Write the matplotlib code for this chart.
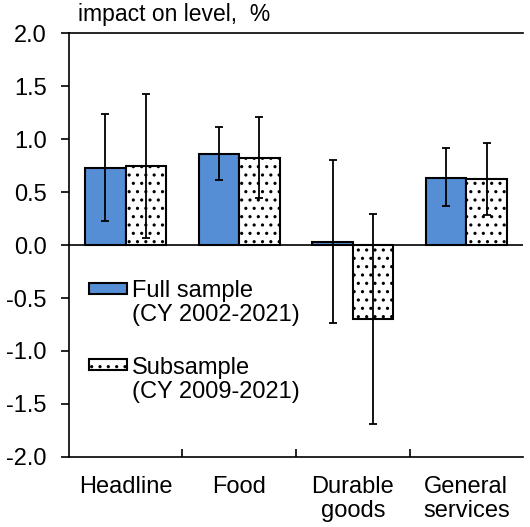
import numpy as np
import matplotlib
matplotlib.use("Agg")
import matplotlib.pyplot as plt
from matplotlib.patches import Rectangle

plt.rcParams['font.family'] = ['Liberation Sans', 'DejaVu Sans']
plt.rcParams['hatch.linewidth'] = 1.1

categories = ['Headline', 'Food', 'Durable\ngoods', 'General\nservices']
full_vals = [0.73, 0.86, 0.03, 0.63]
full_hi = [1.24, 1.11, 0.80, 0.92]
full_lo = [0.23, 0.61, -0.735, 0.37]
sub_vals = [0.75, 0.82, -0.70, 0.62]
sub_hi = [1.43, 1.21, 0.29, 0.96]
sub_lo = [0.07, 0.44, -1.69, 0.28]
yticks = [-2.0, -1.5, -1.0, -0.5, 0.0, 0.5, 1.0, 1.5, 2.0]

blue = '#558ED5'
fs = 17

fig = plt.figure(figsize=(5.30, 5.27), dpi=100)
ax = fig.add_axes([0.130, 0.133, 0.857, 0.804])

x = np.arange(len(categories))
w = 0.357
full_vals = np.array(full_vals)
sub_vals = np.array(sub_vals)
full_err = [full_vals - np.array(full_lo), np.array(full_hi) - full_vals]
sub_err = [sub_vals - np.array(sub_lo), np.array(sub_hi) - sub_vals]

ax.bar(x - w / 2, full_vals, w, color=blue, edgecolor='black', linewidth=1.5, zorder=2)
ax.bar(x + w / 2, sub_vals, w, color='white', edgecolor='black', linewidth=1.5,
       hatch='..', zorder=2)
ax.errorbar(x - w / 2, full_vals, yerr=full_err, fmt='none', ecolor='black',
            elinewidth=1.3, capsize=3, capthick=1.3, zorder=3)
ax.errorbar(x + w / 2, sub_vals, yerr=sub_err, fmt='none', ecolor='black',
            elinewidth=1.3, capsize=3, capthick=1.3, zorder=3)

ax.axhline(0, color='black', linewidth=1.2, zorder=4)

ax.set_xlim(-0.5, len(categories) - 0.5)
ax.set_ylim(-2.0, 2.0)
ax.set_yticks(yticks)
ax.set_yticklabels([f'{v:.1f}' for v in yticks], fontsize=fs)
ax.tick_params(axis='y', direction='out', length=6, width=1.2, pad=10)

ax.set_xticks(x)
ax.set_xticklabels(categories, fontsize=fs, linespacing=1.1)
ax.set_xticks(x[:-1] + 0.5, minor=True)
ax.tick_params(axis='x', which='major', length=0, pad=14)
ax.tick_params(axis='x', which='minor', direction='in', length=6, width=1.2)

ax.spines['right'].set_visible(False)
for s in ['left', 'bottom', 'top']:
    ax.spines[s].set_linewidth(1.2)

# legend drawn by hand
ax.add_patch(Rectangle((0.044, 0.384), 0.084, 0.027, transform=ax.transAxes,
                       facecolor=blue, edgecolor='black', linewidth=1.5, zorder=5))
ax.add_patch(Rectangle((0.044, 0.205), 0.084, 0.027, transform=ax.transAxes,
                       facecolor='white', edgecolor='black', linewidth=1.5,
                       hatch='..', zorder=5))
ax.text(0.139, 0.363, 'Full sample\n(CY 2002-2021)', transform=ax.transAxes,
        fontsize=fs, va='center', ha='left', linespacing=1.15)
ax.text(0.139, 0.181, 'Subsample\n(CY 2009-2021)', transform=ax.transAxes,
        fontsize=fs, va='center', ha='left', linespacing=1.15)

fig.text(78 / 530, 1 - 15 / 527, 'impact on level,  %', fontsize=16.5,
         va='center', ha='left')

fig.savefig('out.png', dpi=100)
